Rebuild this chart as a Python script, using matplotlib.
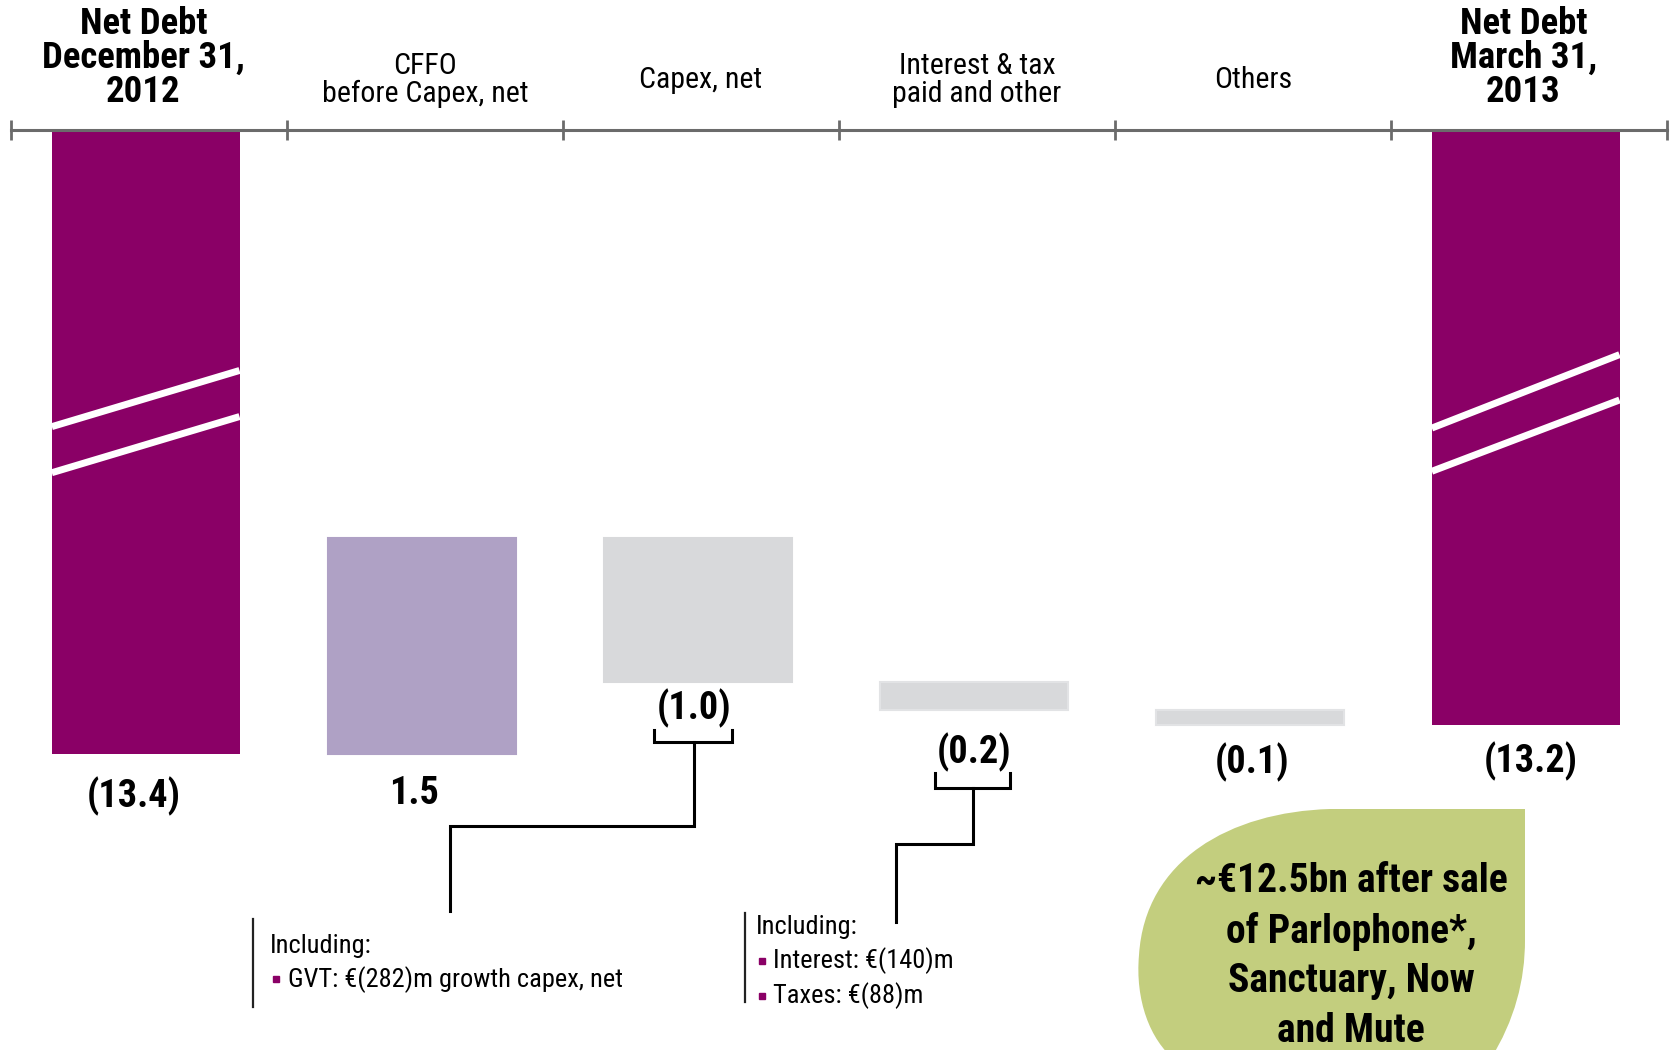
import numpy as np
import matplotlib
matplotlib.use("Agg")
import matplotlib.pyplot as plt
import matplotlib.transforms as mtransforms
from matplotlib.path import Path
from matplotlib.patches import PathPatch

plt.rcParams['font.family'] = ['Roboto Condensed', 'DejaVu Sans']

# data (EUR bn)
categories = ['Net Debt\nDecember 31,\n2012', 'CFFO\nbefore Capex, net', 'Capex, net',
              'Interest & tax\npaid and other', 'Others', 'Net Debt\nMarch 31,\n2013']
bold_cats = [True, False, False, False, False, True]
start_debt = 13.4
changes = [-1.5, 1.0, 0.2, 0.1]   # effect on net debt
end_debt = 13.2
value_labels = ['(13.4)', '1.5', '(1.0)', '(0.2)', '(0.1)', '(13.2)']
notes_capex = ['Including:', 'GVT: €(282)m growth capex, net']
notes_interest = ['Including:', 'Interest: €(140)m', 'Taxes: €(88)m']
bubble_text = '~€12.5bn after sale\nof Parlophone*,\nSanctuary, Now\nand Mute'

purple = '#8A0066'
lilac = '#AFA1C5'
grey = '#D8D9DB'
green = '#C3CE7E'

W, H = 1675, 1050
fig = plt.figure(figsize=(W / 100, H / 100), dpi=100)
ax = fig.add_axes([11 / W, 0, (1667 - 11) / W, (H - 130) / H])

axis_top = 9.07          # where the broken bars start
px_per_unit = 144
ax.set_ylim(axis_top + (H - 130) / px_per_unit, axis_top)
ax.set_xlim(-0.5, 5.5)

x = np.arange(len(categories))
xb = x - 0.012   # bars sit a touch left of the column centre
bw = 0.68

# waterfall
levels = start_debt + np.cumsum(changes)
prev = np.concatenate([[start_debt], levels[:-1]])
ax.bar(xb[0], start_debt - axis_top, bottom=axis_top, width=bw, color=purple)
ax.bar(xb[5], end_debt - axis_top, bottom=axis_top, width=bw, color=purple)
step_colors = [lilac, grey, grey, grey]
for i, (p, l) in enumerate(zip(prev, levels)):
    ax.bar(xb[i + 1], abs(l - p), bottom=min(p, l), width=bw, color=step_colors[i],
           edgecolor='#E2E3E5' if i >= 2 else step_colors[i], linewidth=1.5)

# break marks on the broken bars
breaks = {0: [(11.13, 10.74), (11.45, 11.06)], 5: [(11.14, 10.63), (11.44, 10.945)]}
for i, segs in breaks.items():
    for yl, yr in segs:
        ax.plot([xb[i] - bw / 2, xb[i] + bw / 2], [yl, yr], color='white', lw=5,
                solid_capstyle='butt')

# value labels below bars
bottoms = [start_debt, start_debt, levels[1], levels[2], levels[3], end_debt]
offsets = [(-12, -43), (-8, -40), (-4, -27), (0, -42), (2, -38), (5, -37)]
for i, lab in enumerate(value_labels):
    ax.annotate(lab, (xb[i], bottoms[i]), xytext=offsets[i], textcoords='offset pixels',
                ha='center', va='center', fontsize=27.5, fontweight='bold')

# axis on top
for s in ['left', 'right', 'bottom']:
    ax.spines[s].set_visible(False)
ax.spines['top'].set_color('#6B6B6B')
ax.spines['top'].set_linewidth(2.2)
ax.xaxis.set_ticks_position('top')
ax.set_xticks(np.arange(-0.5, 6, 1))
ax.set_xticklabels([])
ax.tick_params(axis='x', direction='inout', length=14, width=2, color='#6B6B6B')
ax.set_yticks([])

# category headers
tr = mtransforms.blended_transform_factory(ax.transData, fig.transFigure)
for i, c in enumerate(categories):
    if bold_cats[i]:
        ax.text(x[i] - 0.02, 1 - 58 / H, c, transform=tr, ha='center', va='center',
                fontsize=26.5, fontweight='bold', linespacing=0.92, clip_on=False)
    else:
        ax.text(x[i], 1 - 80 / H, c, transform=tr, ha='center', va='center',
                fontsize=21.5, linespacing=0.98, clip_on=False)

# annotations in pixel space
px = mtransforms.Affine2D().scale(1 / W, -1 / H).translate(0, 1) + fig.transFigure

def line(xs, ys, lw=2.2, color='black'):
    fig.add_artist(plt.Line2D(xs, ys, transform=px, color=color, lw=lw,
                              solid_joinstyle='miter'))

# bracket + connector for capex
line([654, 654, 732, 732], [730, 742, 742, 730])
line([694, 694, 450, 450], [742, 826, 826, 911])
# bracket + connector for interest
line([935, 935, 1010, 1010], [773, 788, 788, 773])
line([973, 973, 896, 896], [788, 844, 844, 922])

# note boxes
line([253, 253], [919, 1007], lw=1.6, color='#222222')
fig.text(270, 946, notes_capex[0], transform=px, ha='left', va='center', fontsize=19)
fig.text(288, 980, notes_capex[1], transform=px, ha='left', va='center', fontsize=19)
fig.add_artist(plt.Line2D([276], [979], transform=px, marker='s', ms=5, color=purple, lw=0))

line([745, 745], [913, 1002], lw=1.6, color='#222222')
fig.text(756, 927, notes_interest[0], transform=px, ha='left', va='center', fontsize=19)
for k, t in enumerate(notes_interest[1:]):
    yy = 961 + 35 * k
    fig.text(773, yy, t, transform=px, ha='left', va='center', fontsize=19)
    fig.add_artist(plt.Line2D([762], [yy], transform=px, marker='s', ms=5, color=purple, lw=0))

# green bubble
verts = [(1525, 809), (1330, 809),
         (1230, 812), (1145, 860), (1139, 955),
         (1135, 1000), (1150, 1040), (1175, 1060),
         (1490, 1060),
         (1515, 1020), (1525, 980), (1525, 940),
         (1525, 809)]
codes = [Path.MOVETO, Path.LINETO,
         Path.CURVE4, Path.CURVE4, Path.CURVE4,
         Path.CURVE4, Path.CURVE4, Path.CURVE4,
         Path.LINETO,
         Path.CURVE4, Path.CURVE4, Path.CURVE4,
         Path.CLOSEPOLY]
fig.add_artist(PathPatch(Path(verts, codes), transform=px, facecolor=green, edgecolor='none'))
fig.text(1351, 956, bubble_text, transform=px, ha='center', va='center', fontsize=28.5,
         fontweight='bold', linespacing=1.38)

fig.savefig('out.png', dpi=100)
